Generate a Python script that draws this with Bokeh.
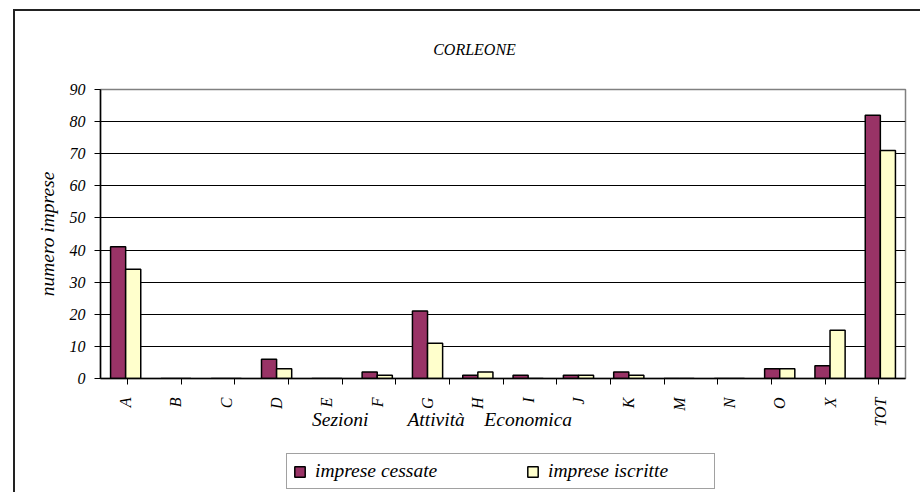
from bokeh.plotting import figure
from bokeh.models import (FactorRange, Range1d, CategoricalAxis, FixedTicker,
                          Legend, LegendItem, Label)
from bokeh.layouts import column
from bokeh.transform import dodge
from bokeh.embed import file_html
from bokeh.resources import INLINE
import math

# ---- data ----
categories = ["A", "B", "C", "D", "E", "F", "G", "H", "I", "J", "K", "M", "N", "O", "X", "TOT"]
imprese_cessate = [41, 0, 0, 6, 0, 2, 21, 1, 1, 1, 2, 0, 0, 3, 4, 82]
imprese_iscritte = [34, 0, 0, 3, 0, 1, 11, 2, 0, 1, 1, 0, 0, 3, 15, 71]
y_ticks = [0, 10, 20, 30, 40, 50, 60, 70, 80, 90]
title_text = "CORLEONE"
x_title_words = ["Sezioni", "Attività", "Economica"]
y_title = "numero imprese"
series_names = ["imprese cessate", "imprese iscritte"]

FONT = "Liberation Serif"
C1 = "#993366"
C2 = "#FFFFCC"
NB = "\u00a0"
W = 905

source = dict(cat=categories, cessate=imprese_cessate, iscritte=imprese_iscritte)


def blank_figure(height, x_range, y_range):
    f = figure(width=W, height=height, output_backend="svg", toolbar_location=None,
               title=None, x_axis_location=None, y_axis_location=None,
               x_range=x_range, y_range=y_range, min_border=0)
    f.grid.visible = False
    f.outline_line_color = None
    f.background_fill_color = "white"
    f.border_fill_color = "white"
    return f


# ---- header with the title ----
head = blank_figure(67, Range1d(0, 1), Range1d(0, 1))
head.add_layout(Label(x=374, y=29, x_units="screen", y_units="screen", text=title_text,
                      text_font=FONT, text_font_style="italic", text_font_size="16px",
                      text_align="center", text_baseline="middle", text_color="black"))

# ---- main chart ----
p = figure(x_range=FactorRange(factors=categories), y_range=Range1d(0, 90),
           width=W, height=356, output_backend="svg", toolbar_location=None, title=None,
           x_axis_location=None, min_border_left=85, min_border_right=15,
           min_border_top=11, min_border_bottom=56)
p.background_fill_color = "white"
p.border_fill_color = "white"
p.outline_line_color = "#808080"
p.outline_line_width = 1.5

r1 = p.vbar(x=dodge("cat", -0.15, range=p.x_range), top="cessate", width=0.3, source=source,
            fill_color=C1, line_color="black", line_width=1.5)
r2 = p.vbar(x=dodge("cat", 0.15, range=p.x_range), top="iscritte", width=0.3, source=source,
            fill_color=C2, line_color="black", line_width=1.5)

yax = p.yaxis[0]
yax.ticker = FixedTicker(ticks=y_ticks)
yax.minor_tick_line_color = None
yax.major_tick_out = 6
yax.major_tick_in = 0
yax.major_label_standoff = 9
yax.major_label_text_font = FONT
yax.major_label_text_font_style = "italic"
yax.major_label_text_font_size = "16px"
yax.major_label_text_color = "black"
yax.axis_line_color = "black"
yax.axis_line_width = 1.5
yax.major_tick_line_color = "black"
yax.axis_label = y_title
yax.axis_label_text_font = FONT
yax.axis_label_text_font_style = "italic"
yax.axis_label_text_font_size = "19.5px"
yax.axis_label_text_color = "black"
yax.axis_label_standoff = 9

p.ygrid.ticker = FixedTicker(ticks=y_ticks[1:-1])
p.ygrid.grid_line_color = "black"
p.ygrid.grid_line_width = 1
p.xgrid.grid_line_color = None

# ticks on the boundaries between categories
boundaries = ["b%d" % i for i in range(len(categories) + 1)]
p.extra_x_ranges = {"bounds": FactorRange(factors=boundaries, range_padding=-1,
                                          range_padding_units="absolute")}
tick_axis = CategoricalAxis(x_range_name="bounds",
                            major_tick_out=6, major_tick_in=0,
                            major_label_text_font_size="0px", major_label_standoff=0,
                            major_label_text_color=None,
                            axis_line_color="black", axis_line_width=1.5,
                            major_tick_line_color="black")
p.add_layout(tick_axis, "below")

x_title = x_title_words[0] + NB * 8 + x_title_words[1] + NB * 4 + x_title_words[2] + NB * 25
cat_axis = CategoricalAxis(axis_line_color=None, major_tick_line_color=None, major_tick_out=0,
                           major_tick_in=0, major_label_standoff=13,
                           major_label_orientation=math.pi / 2,
                           major_label_text_font=FONT, major_label_text_font_style="italic",
                           major_label_text_font_size="16px", major_label_text_color="black",
                           axis_label=x_title, axis_label_standoff=-21,
                           axis_label_text_font=FONT, axis_label_text_font_style="italic",
                           axis_label_text_font_size="19.5px", axis_label_text_color="black")
p.add_layout(cat_axis, "below")

# ---- footer with the legend (same series, hidden renderers feed the legend glyphs) ----
foot = blank_figure(58, FactorRange(factors=categories), Range1d(0, 90))
g1 = foot.vbar(x=dodge("cat", -0.15, range=foot.x_range), top="cessate", width=0.3, source=source,
               fill_color=C1, line_color="black", line_width=1.5)
g2 = foot.vbar(x=dodge("cat", 0.15, range=foot.x_range), top="iscritte", width=0.3, source=source,
               fill_color=C2, line_color="black", line_width=1.5)
g1.visible = False
g2.visible = False
legend = Legend(items=[LegendItem(label=series_names[0], renderers=[g1]),
                       LegendItem(label=series_names[1], renderers=[g2])],
                orientation="horizontal", location=(186, 3),
                label_text_font=FONT, label_text_font_style="italic", label_text_font_size="19.5px",
                label_text_color="black", glyph_width=13, glyph_height=13, label_height=13,
                label_width=160, label_standoff=9, spacing=51, padding=6, margin=0,
                border_line_color="#444", border_line_width=1.5, background_fill_color="white",
                background_fill_alpha=1.0, inactive_fill_alpha=0.0)
foot.add_layout(legend, "center")

layout = column(head, p, foot, spacing=0)
layout.styles = {"margin-left": "13px", "margin-top": "9px",
                 "border-left": "2px solid #222", "border-top": "2px solid #222"}

open("out.html", "w").write(file_html(layout, INLINE))
